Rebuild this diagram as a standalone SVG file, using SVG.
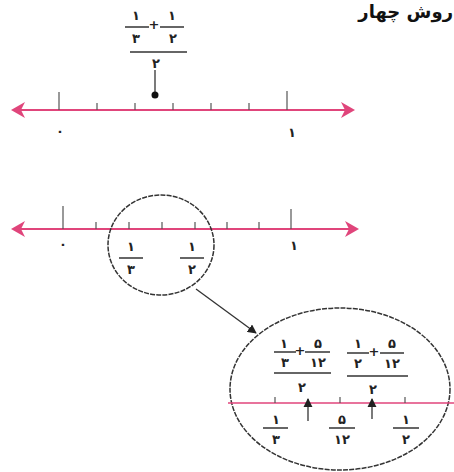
<svg xmlns="http://www.w3.org/2000/svg" width="454" height="472" viewBox="0 0 454 472">
<defs>
<style>
.t{font-family:"DejaVu Sans","Noto Sans",sans-serif;font-size:13px;font-weight:bold;fill:#222;text-anchor:middle}
.h{font-family:"DejaVu Sans","Noto Sans",sans-serif;font-size:18px;font-weight:bold;fill:#111}
.bar{stroke:#333;stroke-width:1.5}
.axis{stroke:#e0457b;stroke-width:2.2}
.tk{stroke:#555;stroke-width:1.2}
.pk{fill:#e0457b}
.ln{stroke:#333;stroke-width:1.3;fill:none}
.circ{stroke:#333;stroke-width:1.5;fill:none;stroke-dasharray:5 1.2}
</style>
<marker id="ah" viewBox="0 0 10 10" refX="9" refY="5" markerWidth="7" markerHeight="7" orient="auto-start-reverse">
<path d="M0,0 L10,5 L0,10 z" fill="#222"/>
</marker>
</defs>
<rect width="454" height="472" fill="#fff"/>
<text class="h" x="453" y="18" text-anchor="end">روش چهار</text>

<g id="formula-top">
<text class="t" x="136" y="20">۱</text>
<line class="bar" x1="125" y1="27" x2="149" y2="27"/>
<text class="t" x="136" y="43">۳</text>
<text class="t" x="154" y="29">+</text>
<text class="t" x="172" y="20">۱</text>
<line class="bar" x1="160" y1="27" x2="184" y2="27"/>
<text class="t" x="173" y="43">۲</text>
<line class="bar" x1="130" y1="52" x2="187" y2="52"/>
<text class="t" x="156" y="68">۲</text>
</g>

<g id="numberline-top">
<line class="axis" x1="16" y1="110" x2="350" y2="110"/>
<path class="pk" d="M11,110 L25,102 L21,110 L25,118 z"/>
<path class="pk" d="M355,110 L341,102 L345,110 L341,118 z"/>
<line class="tk" x1="59" y1="92" x2="59" y2="110"/>
<line class="tk" x1="97" y1="103" x2="97" y2="110"/>
<line class="tk" x1="135" y1="103" x2="135" y2="110"/>
<line class="tk" x1="173" y1="103" x2="173" y2="110"/>
<line class="tk" x1="211" y1="103" x2="211" y2="110"/>
<line class="tk" x1="249" y1="103" x2="249" y2="110"/>
<line class="tk" x1="287" y1="91" x2="287" y2="110"/>
<text class="t" x="60" y="136">۰</text>
<text class="t" x="292" y="137">۱</text>
</g>

<g id="midpoint-top">
<line class="ln" x1="155" y1="70" x2="155" y2="94"/>
<circle cx="155" cy="95" r="3.5" fill="#111"/>
</g>

<g id="numberline-mid">
<line class="axis" x1="16" y1="229" x2="354" y2="229"/>
<path class="pk" d="M11,229 L25,221 L21,229 L25,237 z"/>
<path class="pk" d="M359,229 L345,221 L349,229 L345,237 z"/>
<line class="tk" x1="63" y1="206" x2="63" y2="229"/>
<line class="tk" x1="96" y1="222" x2="96" y2="229"/>
<line class="tk" x1="129" y1="222" x2="129" y2="229"/>
<line class="tk" x1="162" y1="222" x2="162" y2="229"/>
<line class="tk" x1="195" y1="222" x2="195" y2="229"/>
<line class="tk" x1="227" y1="222" x2="227" y2="229"/>
<line class="tk" x1="259" y1="222" x2="259" y2="229"/>
<line class="tk" x1="291" y1="209" x2="291" y2="229"/>
<text class="t" x="63" y="249">۰</text>
<text class="t" x="294" y="250">۱</text>
<text class="t" x="131" y="251">۱</text>
<line class="bar" x1="119" y1="258" x2="143" y2="258"/>
<text class="t" x="131" y="274">۳</text>
<text class="t" x="192" y="251">۱</text>
<line class="bar" x1="180" y1="258" x2="204" y2="258"/>
<text class="t" x="192" y="274">۲</text>
</g>

<g id="zoom-circle">
<ellipse class="circ" cx="161" cy="245" rx="53" ry="50"/>
</g>

<g id="connectors">
<line class="ln" x1="196" y1="289" x2="256" y2="333" marker-end="url(#ah)"/>
</g>

<g id="zoom-detail">
<ellipse class="circ" cx="340" cy="389" rx="110" ry="81"/>
<line x1="228" y1="403" x2="454" y2="403" stroke="#e0457b" stroke-width="1.5"/>
<line class="tk" x1="275" y1="397" x2="275" y2="403"/>
<line class="tk" x1="340" y1="397" x2="340" y2="403"/>
<line class="tk" x1="405" y1="397" x2="405" y2="403"/>
<line class="ln" x1="308" y1="421" x2="308" y2="399" marker-end="url(#ah)"/>
<line class="ln" x1="372" y1="419" x2="372" y2="399" marker-end="url(#ah)"/>

<text class="t" x="284" y="348">۱</text>
<line class="bar" x1="274" y1="352" x2="296" y2="352"/>
<text class="t" x="285" y="367">۳</text>
<text class="t" x="300" y="355">+</text>
<text class="t" x="318" y="348">۵</text>
<line class="bar" x1="305" y1="352" x2="330" y2="352"/>
<text class="t" x="318" y="367">۱۲</text>
<line class="bar" x1="274" y1="373" x2="331" y2="373"/>
<text class="t" x="302" y="392">۲</text>

<text class="t" x="358" y="348">۱</text>
<line class="bar" x1="347" y1="353" x2="369" y2="353"/>
<text class="t" x="358" y="368">۲</text>
<text class="t" x="374" y="356">+</text>
<text class="t" x="392" y="348">۵</text>
<line class="bar" x1="380" y1="353" x2="404" y2="353"/>
<text class="t" x="392" y="368">۱۲</text>
<line class="bar" x1="347" y1="376" x2="408" y2="376"/>
<text class="t" x="373" y="394">۲</text>

<text class="t" x="276" y="424">۱</text>
<line class="bar" x1="263" y1="428" x2="288" y2="428"/>
<text class="t" x="276" y="444">۳</text>
<text class="t" x="342" y="424">۵</text>
<line class="bar" x1="329" y1="428" x2="355" y2="428"/>
<text class="t" x="342" y="444">۱۲</text>
<text class="t" x="406" y="424">۱</text>
<line class="bar" x1="393" y1="428" x2="419" y2="428"/>
<text class="t" x="406" y="444">۲</text>
</g>
</svg>
